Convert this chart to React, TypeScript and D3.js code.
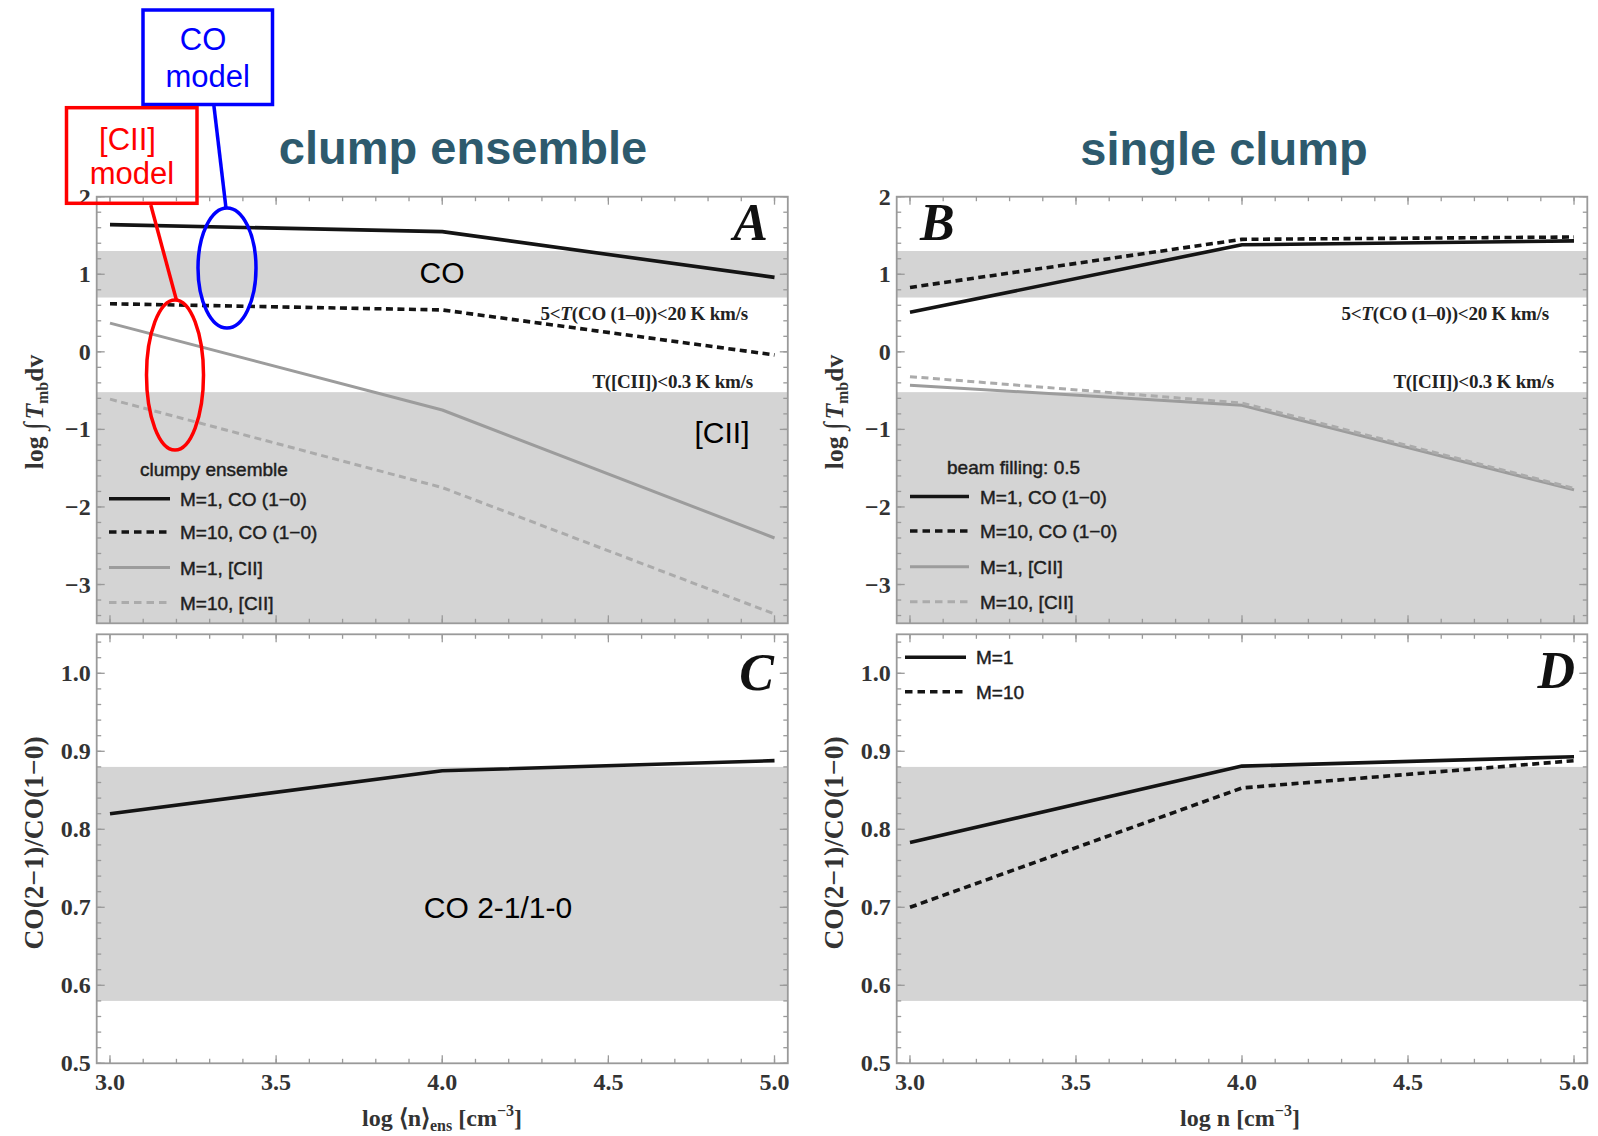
import React from "react";
import * as d3 from "d3";

// ---------- data ----------
const xValues = [3.0, 4.0, 5.0];
const xTicks = [3.0, 3.5, 4.0, 4.5, 5.0];
const xTickLabels = ["3.0", "3.5", "4.0", "4.5", "5.0"];
const topYTicks = [-3, -2, -1, 0, 1, 2];
const topYTickLabels = ["−3", "−2", "−1", "0", "1", "2"];
const ratioYTicks = [0.5, 0.6, 0.7, 0.8, 0.9, 1.0];
const ratioYTickLabels = ["0.5", "0.6", "0.7", "0.8", "0.9", "1.0"];

// panel A: clump ensemble, log ∫T dv
const ensM1CO = [1.64, 1.55, 0.96];
const ensM10CO = [0.62, 0.54, -0.04];
const ensM1CII = [0.37, -0.75, -2.4];
const ensM10CII = [-0.61, -1.75, -3.38];
// panel B: single clump
const sglM1CO = [0.51, 1.38, 1.43];
const sglM10CO = [0.83, 1.45, 1.48];
const sglM1CII = [-0.43, -0.69, -1.78];
const sglM10CII = [-0.32, -0.66, -1.76];
// panel C: ensemble ratio
const ensRatioM1 = [0.82, 0.875, 0.888];
// panel D: single clump ratio
const sglRatioM1 = [0.783, 0.881, 0.893];
const sglRatioM10 = [0.7, 0.853, 0.888];

// observed ranges
const coBand = [0.7, 1.3];
const ciiBand = [-3.5, -0.52];
const ratioBand = [0.58, 0.88];

const legendTopLabels = ["M=1, CO (1−0)", "M=10, CO (1−0)", "M=1, [CII]", "M=10, [CII]"];
const legendRatioLabels = ["M=1", "M=10"];

// ---------- layout ----------
const W = 1598;
const H = 1136;
const colA = [96.7, 787.8];
const colB = [896.7, 1587.3];
const rowTop = [623.3, 196.7];
const rowBot = [1063.3, 634.3];
const xDomain = [2.96, 5.04];
const topYDomain = [-3.5, 2];
const ratioYDomain = [0.5, 1.05];

const SERIF = "'Liberation Serif', 'Times New Roman', serif";
const SANS = "'Liberation Sans', Arial, sans-serif";
const FRAME = "#9a9a9a";
const BAND = "#d4d4d4";

const styles = {
  m1co: { stroke: "#141414", width: 3.6, dash: undefined },
  m10co: { stroke: "#141414", width: 3.6, dash: "7 4.5" },
  m1cii: { stroke: "#9c9c9c", width: 3, dash: undefined },
  m10cii: { stroke: "#ababab", width: 3, dash: "7 4.5" },
};

type Scale = d3.ScaleLinear<number, number>;

function Frame({ sx, sy, yMajor, yMinorStep, yLabels, showX }: any) {
  const [xl, xr] = sx.range();
  const [yb, yt] = sy.range();
  const d = sy.domain();
  const xMinor = d3.range(30, 51).map((v) => v / 10);
  const yMinor = d3
    .range(Math.ceil(d[0] / yMinorStep - 1e-6), Math.floor(d[1] / yMinorStep + 1e-6) + 1)
    .map((k) => k * yMinorStep);
  const segs: number[][] = [];
  xMinor.forEach((v) => {
    const x = sx(v);
    segs.push([x, yb, x, yb - 4.5]);
    segs.push([x, yt, x, yt + 4.5]);
  });
  xTicks.forEach((v) => {
    const x = sx(v);
    segs.push([x, yb, x, yb - 8]);
    segs.push([x, yt, x, yt + 8]);
  });
  yMinor.forEach((v) => {
    const y = sy(v);
    segs.push([xl, y, xl + 4.5, y]);
    segs.push([xr, y, xr - 4.5, y]);
  });
  yMajor.forEach((v: number) => {
    const y = sy(v);
    segs.push([xl, y, xl + 8, y]);
    segs.push([xr, y, xr - 8, y]);
  });
  return (
    <g>
      {segs.map((s, i) => (
        <line key={i} x1={s[0]} y1={s[1]} x2={s[2]} y2={s[3]} stroke={FRAME} strokeWidth={1.3} />
      ))}
      <rect x={xl} y={yt} width={xr - xl} height={yb - yt} fill="none" stroke={FRAME} strokeWidth={1.8} />
      {yMajor.map((v: number, i: number) => (
        <text
          key={"yl" + i}
          x={xl - 6}
          y={sy(v) + 8}
          textAnchor="end"
          fontFamily={SERIF}
          fontWeight="bold"
          fontSize={24}
          fill="#333"
        >
          {yLabels[i]}
        </text>
      ))}
      {showX &&
        xTicks.map((v, i) => (
          <text
            key={"xl" + i}
            x={sx(v)}
            y={1090}
            textAnchor="middle"
            fontFamily={SERIF}
            fontWeight="bold"
            fontSize={24}
            fill="#333"
          >
            {xTickLabels[i]}
          </text>
        ))}
    </g>
  );
}

function Series({ sx, sy, values, st }: any) {
  const line = d3
    .line<number>()
    .x((_, i) => sx(xValues[i]))
    .y((v) => sy(v));
  return (
    <path
      d={line(values) || ""}
      fill="none"
      stroke={st.stroke}
      strokeWidth={st.width}
      strokeDasharray={st.dash}
      strokeLinejoin="round"
    />
  );
}

function Band({ sx, sy, range }: any) {
  const [xl, xr] = sx.range();
  const ya = sy(range[1]);
  const yb = sy(range[0]);
  return <rect x={xl} y={ya} width={xr - xl} height={yb - ya} fill={BAND} />;
}

function Legend({ x0, x1, tx, rows, labels, sts, title, titleX, titleY }: any) {
  return (
    <g fontFamily={SANS} fontSize={19} fill="#1e1e1e">
      {title && (
        <text x={titleX} y={titleY} stroke="#1e1e1e" strokeWidth={0.45}>
          {title}
        </text>
      )}
      {labels.map((lab: string, i: number) => (
        <g key={i}>
          <line
            x1={x0}
            x2={x1}
            y1={rows[i]}
            y2={rows[i]}
            stroke={sts[i].stroke}
            strokeWidth={sts[i].width}
            strokeDasharray={sts[i].dash ? "7.5 5" : undefined}
          />
          <text x={tx} y={rows[i] + 7} stroke="#1e1e1e" strokeWidth={0.45}>
            {lab}
          </text>
        </g>
      ))}
    </g>
  );
}

function TopNote({ xRight }: any) {
  return (
    <g fontFamily={SERIF} fontWeight="bold" fontSize={19} fill="#222" textAnchor="end" letterSpacing={-0.2}>
      <text x={xRight} y={320}>
        5&lt;<tspan fontStyle="italic">T</tspan>(CO (1–0))&lt;20 K km/s
      </text>
      <text x={xRight + 5} y={388}>
        T([CII])&lt;0.3 K km/s
      </text>
    </g>
  );
}

export default function App() {
  const sxA: Scale = d3.scaleLinear().domain(xDomain).range(colA);
  const sxB: Scale = d3.scaleLinear().domain(xDomain).range(colB);
  const syTop: Scale = d3.scaleLinear().domain(topYDomain).range(rowTop);
  const syBot: Scale = d3.scaleLinear().domain(ratioYDomain).range(rowBot);

  const topSts = [styles.m1co, styles.m10co, styles.m1cii, styles.m10cii];
  const legRowsA = [498.7, 532, 567.5, 602.5];
  const legRowsB = [496.5, 531, 566.7, 601.7];

  return (
    <svg
      width={W}
      height={H}
      viewBox={`0 0 ${W} ${H}`}
      style={{ position: "absolute", left: 0, top: 0, background: "#fff" }}
    >
      <rect x={0} y={0} width={W} height={H} fill="#fff" />

      {/* titles */}
      <text x={463} y={164} textAnchor="middle" fontFamily={SANS} fontWeight="bold" fontSize={47} fill="#2d5a6d">
        clump ensemble
      </text>
      <text x={1224} y={165} textAnchor="middle" fontFamily={SANS} fontWeight="bold" fontSize={47} fill="#2d5a6d">
        single clump
      </text>

      {/* ---- Panel A ---- */}
      <Band sx={sxA} sy={syTop} range={coBand} />
      <Band sx={sxA} sy={syTop} range={ciiBand} />
      <Frame sx={sxA} sy={syTop} yMajor={topYTicks} yMinorStep={0.2} yLabels={topYTickLabels} showX={false} />
      <text x={442} y={283} textAnchor="middle" fontFamily={SANS} fontSize={30} fill="#000">
        CO
      </text>
      <text x={722} y={443} textAnchor="middle" fontFamily={SANS} fontSize={30} fill="#000">
        [CII]
      </text>
      <TopNote xRight={748} />
      <Series sx={sxA} sy={syTop} values={ensM1CO} st={styles.m1co} />
      <Series sx={sxA} sy={syTop} values={ensM10CO} st={styles.m10co} />
      <Series sx={sxA} sy={syTop} values={ensM1CII} st={styles.m1cii} />
      <Series sx={sxA} sy={syTop} values={ensM10CII} st={styles.m10cii} />
      <Legend
        x0={109}
        x1={170}
        tx={180}
        rows={legRowsA}
        labels={legendTopLabels}
        sts={topSts}
        title="clumpy ensemble"
        titleX={140}
        titleY={476}
      />
      <text x={768} y={240} textAnchor="end" fontFamily={SERIF} fontWeight="bold" fontStyle="italic" fontSize={52} fill="#111">
        A
      </text>

      {/* ---- Panel B ---- */}
      <Band sx={sxB} sy={syTop} range={coBand} />
      <Band sx={sxB} sy={syTop} range={ciiBand} />
      <Frame sx={sxB} sy={syTop} yMajor={topYTicks} yMinorStep={0.2} yLabels={topYTickLabels} showX={false} />
      <TopNote xRight={1549} />
      <Series sx={sxB} sy={syTop} values={sglM1CO} st={styles.m1co} />
      <Series sx={sxB} sy={syTop} values={sglM10CO} st={styles.m10co} />
      <Series sx={sxB} sy={syTop} values={sglM1CII} st={styles.m1cii} />
      <Series sx={sxB} sy={syTop} values={sglM10CII} st={styles.m10cii} />
      <Legend
        x0={910}
        x1={969}
        tx={980}
        rows={legRowsB}
        labels={legendTopLabels}
        sts={topSts}
        title="beam filling: 0.5"
        titleX={947}
        titleY={474}
      />
      <text x={920} y={240} textAnchor="start" fontFamily={SERIF} fontWeight="bold" fontStyle="italic" fontSize={52} fill="#111">
        B
      </text>

      {/* ---- Panel C ---- */}
      <Band sx={sxA} sy={syBot} range={ratioBand} />
      <Frame sx={sxA} sy={syBot} yMajor={ratioYTicks} yMinorStep={0.02} yLabels={ratioYTickLabels} showX={true} />
      <text x={498} y={918} textAnchor="middle" fontFamily={SANS} fontSize={30} fill="#000">
        CO 2-1/1-0
      </text>
      <Series sx={sxA} sy={syBot} values={ensRatioM1} st={styles.m1co} />
      <text x={774} y={690} textAnchor="end" fontFamily={SERIF} fontWeight="bold" fontStyle="italic" fontSize={52} fill="#111">
        C
      </text>

      {/* ---- Panel D ---- */}
      <Band sx={sxB} sy={syBot} range={ratioBand} />
      <Frame sx={sxB} sy={syBot} yMajor={ratioYTicks} yMinorStep={0.02} yLabels={ratioYTickLabels} showX={true} />
      <Series sx={sxB} sy={syBot} values={sglRatioM1} st={styles.m1co} />
      <Series sx={sxB} sy={syBot} values={sglRatioM10} st={styles.m10co} />
      <Legend
        x0={905}
        x1={966}
        tx={976}
        rows={[657.3, 691.7]}
        labels={legendRatioLabels}
        sts={[styles.m1co, styles.m10co]}
      />
      <text x={1575} y={688} textAnchor="end" fontFamily={SERIF} fontWeight="bold" fontStyle="italic" fontSize={52} fill="#111">
        D
      </text>

      {/* axis titles */}
      {[35, 835].map((cx, i) => (
        <text
          key={"yt" + i}
          transform={`translate(${cx + 8},412) rotate(-90)`}
          textAnchor="middle"
          fontFamily={SERIF}
          fontWeight="bold"
          fontSize={25.5}
          fill="#333"
        >
          log <tspan fontStyle="italic" fontSize={28}>∫</tspan>
          <tspan fontStyle="italic" dx={3}>T</tspan>
          <tspan fontSize={16} dy={5}>mb</tspan>
          <tspan dy={-5}>dv</tspan>
        </text>
      ))}
      {[34, 834].map((cx, i) => (
        <text
          key={"yr" + i}
          transform={`translate(${cx + 9},843) rotate(-90)`}
          textAnchor="middle"
          fontFamily={SERIF}
          fontWeight="bold"
          fontSize={27.5}
          fill="#333"
        >
          CO(2−1)/CO(1−0)
        </text>
      ))}
      <text x={442} y={1126} textAnchor="middle" fontFamily={SERIF} fontWeight="bold" fontSize={24} fill="#333">
        log ⟨n⟩<tspan fontSize={16} dy={5}>ens</tspan>
        <tspan dy={-5}> [cm</tspan>
        <tspan fontSize={16} dy={-10}>−3</tspan>
        <tspan dy={10}>]</tspan>
      </text>
      <text x={1240} y={1126} textAnchor="middle" fontFamily={SERIF} fontWeight="bold" fontSize={24} fill="#333">
        log n [cm<tspan fontSize={16} dy={-10}>−3</tspan>
        <tspan dy={10}>]</tspan>
      </text>

      {/* model annotations */}
      <g fill="none" strokeWidth={3.5}>
        <line x1={150.8} y1={205} x2={176.4} y2={300} stroke="#ff0000" />
        <ellipse cx={175} cy={375} rx={28.5} ry={75} stroke="#ff0000" />
        <line x1={213.7} y1={104} x2={226} y2={208.3} stroke="#0000ff" />
        <ellipse cx={227} cy={268} rx={29} ry={60} stroke="#0000ff" />
        <rect x={143} y={10} width={129.5} height={94.5} stroke="#0000ff" />
        <rect x={66.5} y={107.7} width={130.5} height={95.6} stroke="#ff0000" />
      </g>
      <g fontFamily={SANS} fontSize={31} textAnchor="middle">
        <text x={203} y={50} fill="#0000ff">CO</text>
        <text x={207.6} y={87} fill="#0000ff">model</text>
        <text x={127.5} y={150} fill="#ff0000">[CII]</text>
        <text x={132} y={184} fill="#ff0000">model</text>
      </g>
    </svg>
  );
}
